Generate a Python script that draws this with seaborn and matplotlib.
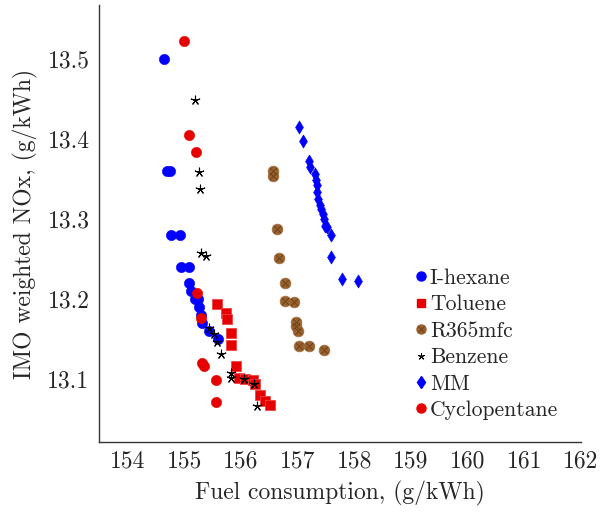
import numpy as np
import pandas as pd
import matplotlib
matplotlib.use("Agg")
import matplotlib.pyplot as plt
import seaborn as sns
from matplotlib.lines import Line2D

# ---- data ----
ihexane_x = [154.65, 154.69, 154.75, 154.77, 154.92, 154.94, 155.08, 155.09, 155.11,
             155.19, 155.25, 155.26, 155.29, 155.32, 155.43, 155.60]
ihexane_y = [13.500, 13.360, 13.360, 13.280, 13.280, 13.240, 13.240, 13.220, 13.210,
             13.200, 13.200, 13.190, 13.180, 13.170, 13.160, 13.150]

toluene_x = [155.58, 155.74, 155.76, 155.82, 155.83, 155.91, 155.97, 156.08, 156.21,
             156.24, 156.33, 156.43, 156.51]
toluene_y = [13.194, 13.183, 13.175, 13.158, 13.143, 13.116, 13.102, 13.100, 13.099,
             13.094, 13.080, 13.073, 13.068]

r365_x = [156.56, 156.56, 156.64, 156.68, 156.77, 156.77, 156.94, 156.97, 156.97,
          157.00, 157.03, 157.20, 157.47]
r365_y = [13.360, 13.354, 13.288, 13.251, 13.220, 13.198, 13.196, 13.172, 13.167,
          13.160, 13.141, 13.141, 13.137]

benzene_x = [155.19, 155.26, 155.28, 155.29, 155.39, 155.43, 155.52, 155.58, 155.65,
             155.83, 155.83, 156.06, 156.23, 156.28]
benzene_y = [13.449, 13.359, 13.338, 13.258, 13.254, 13.164, 13.157, 13.146, 13.132,
             13.108, 13.101, 13.100, 13.094, 13.066]

mm_x = [157.02, 157.10, 157.20, 157.21, 157.30, 157.32, 157.34, 157.34, 157.36, 157.39,
        157.41, 157.45, 157.47, 157.49, 157.52, 157.58, 157.59, 157.78, 158.07]
mm_y = [13.416, 13.3975, 13.373, 13.366, 13.357, 13.349, 13.343, 13.334, 13.325, 13.3175,
        13.3125, 13.307, 13.300, 13.292, 13.290, 13.280, 13.253, 13.225, 13.2225]

cyclo_x = [155.00, 155.08, 155.21, 155.22, 155.29, 155.32, 155.35, 155.56, 155.56]
cyclo_y = [13.523, 13.405, 13.384, 13.2075, 13.176, 13.120, 13.117, 13.099, 13.072]

x_ticks = [154, 155, 156, 157, 158, 159, 160, 161, 162]
y_ticks = [13.1, 13.2, 13.3, 13.4, 13.5]

# ---- style ----
sns.set_style("white")
plt.rcParams["font.family"] = ["cmr10", "DejaVu Serif"]
plt.rcParams["axes.formatter.use_mathtext"] = True
plt.rcParams["mathtext.fontset"] = "cm"

FS = 17
FS_LEG = 15.6
fig = plt.figure(figsize=(6.01, 5.12), dpi=100)
ax = fig.add_axes([0.1652, 0.1361, 0.8015, 0.854])

blue = "#0000ff"
red = "#e60000"
brown = "#98602c"

sns.scatterplot(x=ihexane_x, y=ihexane_y, ax=ax, marker="o", s=55, color=blue,
                edgecolor=blue, linewidth=0.4, zorder=3)
sns.scatterplot(x=toluene_x, y=toluene_y, ax=ax, marker="s", s=50, color=red,
                edgecolor="#ee4444", linewidth=0.6, zorder=3)
sns.scatterplot(x=r365_x, y=r365_y, ax=ax, marker="o", s=60, color=brown,
                edgecolor="#a07040", linewidth=0.5, zorder=3)
sns.scatterplot(x=r365_x, y=r365_y, ax=ax, marker="x", s=26, color="#6a3e18",
                linewidth=0.6, zorder=3)
sns.scatterplot(x=benzene_x, y=benzene_y, ax=ax, marker=(5, 2, 0), s=40, color="black",
                edgecolor="black", linewidth=0.8, zorder=3)
sns.scatterplot(x=mm_x, y=mm_y, ax=ax, marker="d", s=45, color=blue,
                edgecolor=blue, linewidth=0.4, zorder=3)
sns.scatterplot(x=cyclo_x, y=cyclo_y, ax=ax, marker="o", s=55, color=red,
                edgecolor=red, linewidth=0.4, zorder=3)

ax.set_xlim(153.5, 162.0)
ax.set_ylim(13.021, 13.568)
ax.set_xticks(x_ticks)
ax.set_xticklabels([str(t) for t in x_ticks])
ax.set_yticks(y_ticks)
ax.set_yticklabels([f"{t:.1f}" for t in y_ticks])

for s in ["top", "right"]:
    ax.spines[s].set_visible(False)
for s in ["left", "bottom"]:
    ax.spines[s].set_color("#333333")
    ax.spines[s].set_linewidth(1.0)

ax.tick_params(axis="both", direction="in", length=6, width=0.8, color="#999999",
               labelsize=FS)
ax.tick_params(axis="y", pad=7)
ax.tick_params(axis="x", pad=6)

ax.set_xlabel("Fuel consumption, (g/kWh)", fontsize=FS, labelpad=6)
ax.set_ylabel("IMO weighted NOx, (g/kWh)", fontsize=FS, labelpad=7)

labels = ["I-hexane", "Toluene", "R365mfc", "Benzene", "MM", "Cyclopentane"]
handles = [
    Line2D([], [], ls="none", marker="o", ms=6.5, color=blue),
    Line2D([], [], ls="none", marker="s", ms=6.2, color=red),
    (Line2D([], [], ls="none", marker="o", ms=6.5, color=brown),
     Line2D([], [], ls="none", marker="x", ms=4, mew=0.6, color="#6a3e18")),
    Line2D([], [], ls="none", marker=(5, 2, 0), ms=5, mew=0.7, color="black"),
    Line2D([], [], ls="none", marker="d", ms=6, color=blue),
    Line2D([], [], ls="none", marker="o", ms=6.5, color=red),
]
ax.legend(handles, labels, loc="upper left", bbox_to_anchor=(0.654, 0.398),
          frameon=False, fontsize=FS_LEG, handlelength=0.6, handletextpad=0.12,
          labelspacing=0.32, borderaxespad=0, borderpad=0)

fig.savefig("out.png", dpi=100)
